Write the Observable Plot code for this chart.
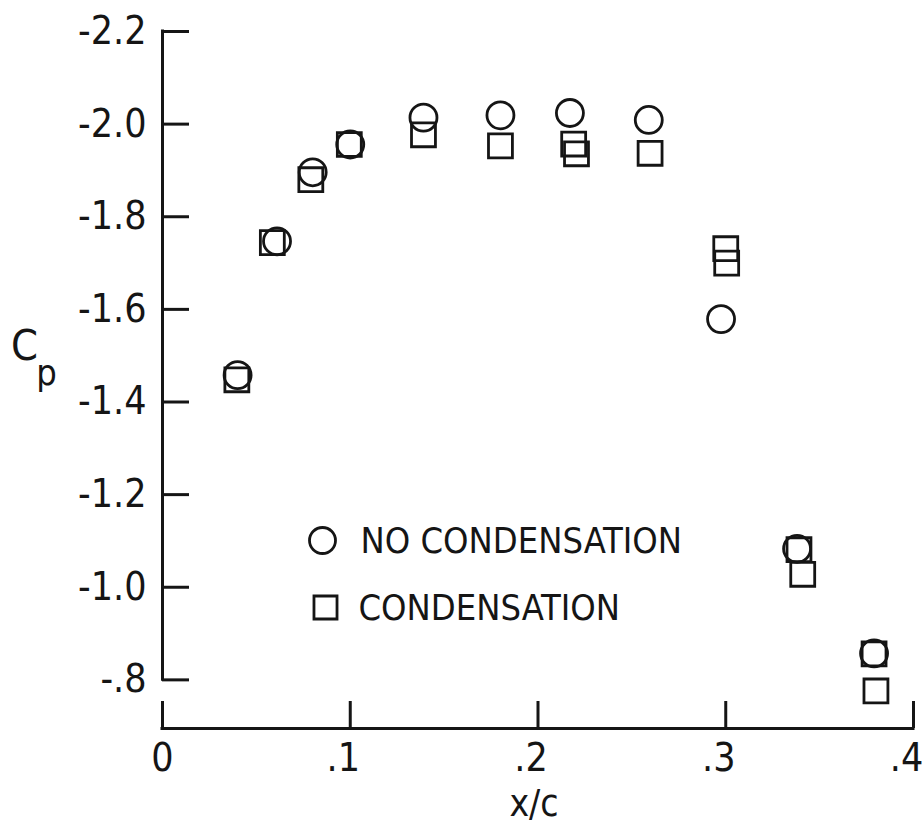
<!DOCTYPE html>
<html><head><meta charset="utf-8">
<script src="https://cdn.jsdelivr.net/npm/d3@7"></script>
<script src="https://cdn.jsdelivr.net/npm/@observablehq/plot@0.6"></script>
<style>html,body{margin:0;padding:0;background:#fff}#chart{width:922px;height:827px}</style>
</head><body><div id="chart"></div>
<script>
// NO CONDENSATION (circles)
const xNoCond = [0.040, 0.061, 0.080, 0.100, 0.139, 0.180, 0.217, 0.259, 0.2975, 0.338, 0.379];
const cpNoCond = [-1.458, -1.747, -1.896, -1.956, -2.014, -2.019, -2.024, -2.009, -1.579, -1.083, -0.857];
// CONDENSATION (squares)
const xCond = [0.0396, 0.0585, 0.079, 0.0995, 0.139, 0.180, 0.219, 0.2205, 0.2597, 0.300, 0.3005, 0.339, 0.341, 0.379, 0.380];
const cpCond = [-1.448, -1.744, -1.880, -1.956, -1.977, -1.953, -1.957, -1.936, -1.937, -1.731, -1.700, -1.081, -1.028, -0.856, -0.776];

const yTicks = [-2.2, -2.0, -1.8, -1.6, -1.4, -1.2, -1.0, -0.8];
const yTickLabels = ["-2.2", "-2.0", "-1.8", "-1.6", "-1.4", "-1.2", "-1.0", "-.8"];
const xTicks = [0, 0.1, 0.2, 0.3, 0.4];
const xTickLabels = ["0", ".1", ".2", ".3", ".4"];
const legendLabels = ["NO CONDENSATION", "CONDENSATION"];
const legendSymbols = ["circle", "square"];
const xLabel = "x/c";
const yLabelMain = "C";
const yLabelSub = "p";

const W = 922, H = 827, mL = 162, mR = 9, mT = 31, mB = 99;
const yBottom = -0.695;
const frameW = W - mL - mR, frameH = H - mT - mB;
const ink = "#151515";
const tickLen = 27;
const sw = 3;
const font = "DejaVu Sans Condensed";

const noCond = xNoCond.map((x, i) => ({x, cp: cpNoCond[i]}));
const cond = xCond.map((x, i) => ({x, cp: cpCond[i]}));
const yIdx = yTicks.map((d, i) => i);
const xIdx = xTicks.map((d, i) => i);

const plot = Plot.plot({
  width: W, height: H,
  marginLeft: mL, marginRight: mR, marginTop: mT, marginBottom: mB,
  x: {domain: [0, 0.4], axis: null},
  y: {domain: [yBottom, -2.2], axis: null},
  style: {background: "#fff", color: ink, fontFamily: font},
  marks: [
    // y axis line (from -2.2 to -0.8)
    Plot.ruleX([0], {y1: yTicks[0], y2: yTicks[yTicks.length - 1], stroke: ink, strokeWidth: sw, strokeLinecap: "square"}),
    // x axis line
    Plot.ruleY([yBottom], {x1: xTicks[0], x2: xTicks[xTicks.length - 1], stroke: ink, strokeWidth: sw, strokeLinecap: "square"}),
    // inward ticks
    Plot.tickY(yTicks, {y: d => d, insetRight: frameW - tickLen, stroke: ink, strokeWidth: sw}),
    Plot.tickX(xTicks, {x: d => d, insetTop: frameH - tickLen, stroke: ink, strokeWidth: sw}),
    // tick labels
    Plot.text(yIdx, {y: i => yTicks[i], text: i => yTickLabels[i], frameAnchor: "left", textAnchor: "end", lineAnchor: "middle", dx: -16, fontSize: 39, fontFamily: font, fill: ink}),
    Plot.text(xIdx.slice(0, 1), {x: i => xTicks[i], text: i => xTickLabels[i], frameAnchor: "bottom", textAnchor: "middle", lineAnchor: "top", dy: 15, fontSize: 39, fontFamily: font, fill: ink}),
    Plot.text(xIdx.slice(1), {x: i => xTicks[i], text: i => xTickLabels[i], frameAnchor: "bottom", textAnchor: "middle", lineAnchor: "top", dx: -7, dy: 15, fontSize: 39, fontFamily: font, fill: ink}),
    // axis labels
    Plot.text([xLabel], {frameAnchor: "bottom", textAnchor: "middle", lineAnchor: "middle", dx: -4, dy: 76, fontSize: 37, fontFamily: font, fill: ink}),
    Plot.text([yLabelMain], {frameAnchor: "top-left", textAnchor: "middle", lineAnchor: "middle", dx: -138, dy: 315, fontSize: 43, fontFamily: font, fill: ink}),
    Plot.text([yLabelSub], {frameAnchor: "top-left", textAnchor: "middle", lineAnchor: "middle", dx: -116, dy: 342, fontSize: 36, fontFamily: font, fill: ink}),
    // data
    Plot.dot(cond, {x: "x", y: "cp", symbol: legendSymbols[1], r: 13.5, stroke: ink, strokeWidth: 2.8, fill: "none"}),
    Plot.dot(noCond, {x: "x", y: "cp", symbol: legendSymbols[0], r: 13.5, stroke: ink, strokeWidth: 2.8, fill: "none"}),
    // legend
    Plot.dot([legendLabels[0]], {frameAnchor: "top-left", dx: 160, dy: 509, symbol: legendSymbols[0], r: 13, stroke: ink, strokeWidth: 2.8, fill: "none"}),
    Plot.dot([legendLabels[1]], {frameAnchor: "top-left", dx: 163, dy: 576, symbol: legendSymbols[1], r: 13, stroke: ink, strokeWidth: 2.8, fill: "none"}),
    Plot.text([legendLabels[0]], {frameAnchor: "top-left", textAnchor: "start", lineAnchor: "middle", dx: 198, dy: 510, fontSize: 36, fontFamily: font, fill: ink, letterSpacing: -0.9}),
    Plot.text([legendLabels[1]], {frameAnchor: "top-left", textAnchor: "start", lineAnchor: "middle", dx: 196, dy: 577, fontSize: 36, fontFamily: font, fill: ink, letterSpacing: -0.9})
  ]
});
document.getElementById("chart").appendChild(plot);
</script>
</body></html>
